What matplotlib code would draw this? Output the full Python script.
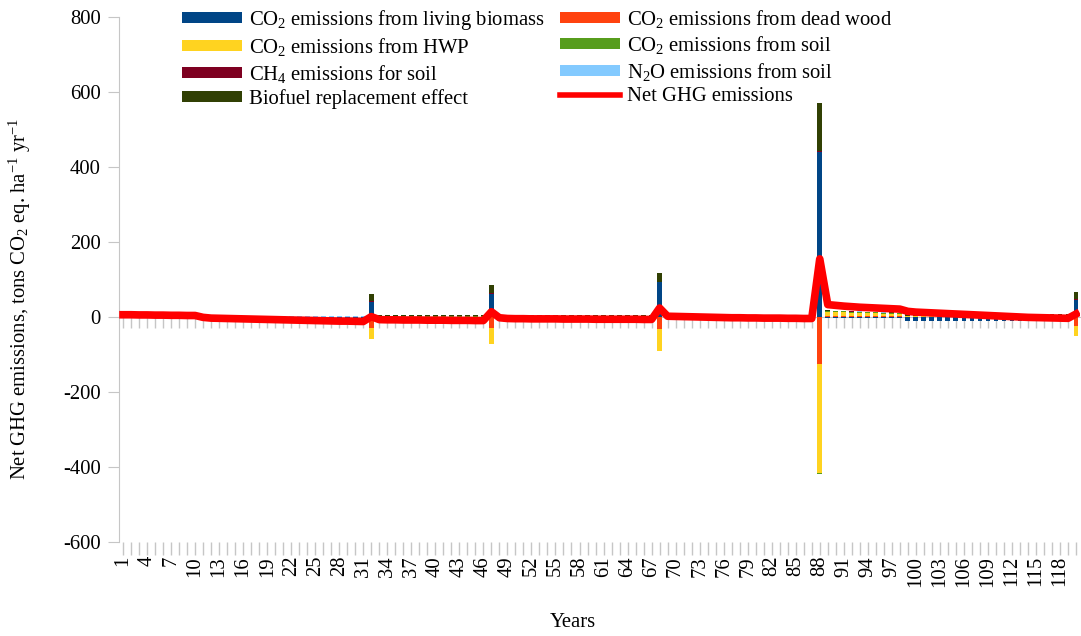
import numpy as np
import matplotlib.pyplot as plt
from matplotlib.patches import Patch
from matplotlib.lines import Line2D

plt.rcParams["font.family"] = ["Liberation Serif", "DejaVu Serif"]
plt.rcParams["mathtext.fontset"] = "custom"
plt.rcParams["mathtext.rm"] = "Liberation Serif"
plt.rcParams["mathtext.it"] = "Liberation Serif:italic"
plt.rcParams["axes.unicode_minus"] = False
plt.rcParams["font.size"] = 14.9

years = np.arange(1, 121)

# emission components per year (tons CO2 eq. per ha and year)
living_biomass = [
    0.5, 0.5, 0.5, 0.5, 0.5, 0.5, 0.5, 0.5, 0.5, 0.5,
    -2, -4.5, -5, -5.5, -6, -6.5, -7, -7.5, -8, -8.5,
    -9, -9.5, -10, -10.5, -11, -11.5, -12, -12.5, -12.5, -13,
    -13.5, 40, -10, -10.5, -10.5, -11, -11, -11, -11.5, -11.5,
    -11.5, -12, -12, -12, -12.5, -12.5, 62, -5, -7, -7.5,
    -7.5, -8, -8, -8, -8, -8.5, -8.5, -8.5, -8.5, -9,
    -9, -9, -9, -9, -9, -9.5, -9.5, 92, -1, -1.5,
    -2, -2.5, -3, -3.5, -4, -4.5, -5, -5, -5.5, -5.5,
    -6, -6, -6, -6.5, -6.5, -7, -7, 440, -3, -3,
    -3, -3, -3, -3, -3, -3, -3, -3, -10, -10,
    -10, -10, -10, -10.5, -10.5, -10.5, -11, -11, -11, -11,
    -11.5, -11.5, -11.5, -11.5, -11.5, -11.5, -11.5, -11.5, -11.5, 45,
]
dead_wood = [
    0.2, 0.2, 0.2, 0.2, 0.2, 0.2, 0.2, 0.2, 0.2, 0.2,
    0.2, 0.2, 0.2, 0.2, 0.2, 0.2, 0.2, 0.2, 0.2, 0.2,
    0.2, 0.2, 0.2, 0.2, 0.2, 0.2, 0.2, 0.2, 0.2, 0.2,
    0.2, -30, 0.5, 0.5, 0.5, 0.5, 0.5, 0.5, 0.5, 0.5,
    0.5, 0.5, 0.5, 0.5, 0.5, 0.5, -30, 0.5, 0.5, 0.5,
    0.5, 0.5, 0.5, 0.5, 0.5, 0.5, 0.5, 0.5, 0.5, 0.5,
    0.5, 0.5, 0.5, 0.5, 0.5, 0.5, 0.5, -32, 1, 1,
    1, 1, 1, 1, 1, 1, 1, 1, 1, 1,
    1, 1, 1, 1, 1, 1, 1, -125, 3, 3,
    3, 3, 3, 2.5, 2.5, 2.5, 2.5, 2.5, 1, 1,
    1, 1, 1, 1, 1, 1, 1, 1, 1, 1,
    1, 1, 1, 1, 1, 1, 1, 1, 1, -25,
]
hwp = [
    0.3, 0.3, 0.3, 0.3, 0.3, 0.3, 0.3, 0.3, 0.3, 0.3,
    0.3, 0.3, 0.3, 0.3, 0.3, 0.3, 0.3, 0.3, 0.3, 0.3,
    0.3, 0.3, 0.3, 0.3, 0.3, 0.3, 0.3, 0.3, 0.3, 0.3,
    0.3, -30, 0.5, 0.5, 0.5, 0.5, 0.5, 0.5, 0.5, 0.5,
    0.5, 0.5, 0.5, 0.5, 0.5, 0.5, -43, 0.5, 0.5, 0.5,
    0.5, 0.5, 0.5, 0.5, 0.5, 0.5, 0.5, 0.5, 0.5, 0.5,
    0.5, 0.5, 0.5, 0.5, 0.5, 0.5, 0.5, -58, 1, 1,
    1, 1, 1, 1, 1, 1, 1, 1, 1, 1,
    1, 1, 1, 1, 1, 1, 1, -290, 10, 9.5,
    9, 8.5, 8, 7.5, 7, 6.5, 6, 5.5, 0.5, 0.5,
    0.5, 0.5, 0.5, 0.5, 0.5, 0.5, 0.5, 0.5, 0.5, 0.5,
    0.5, 0.5, 0.5, 0.5, 0.5, 0.5, 0.5, 0.5, 0.5, -27,
]
soil_co2 = [
    1.5, 1.5, 1.5, 1.5, 1.5, 1.5, 1.5, 1.5, 1.5, 1.5,
    0.5, 0.5, 0.5, 0.5, 0.5, 0.5, 0.5, 0.5, 0.5, 0.5,
    0.5, 0.5, 0.5, 0.5, 0.5, 0.5, 0.5, 0.5, 0.5, 0.5,
    0.5, 0, 0.5, 0.5, 0.5, 0.5, 0.5, 0.5, 0.5, 0.5,
    0.5, 0.5, 0.5, 0.5, 0.5, 0.5, 0, 0.5, 0.5, 0.5,
    0.5, 0.5, 0.5, 0.5, 0.5, 0.5, 0.5, 0.5, 0.5, 0.5,
    0.5, 0.5, 0.5, 0.5, 0.5, 0.5, 0.5, -2, 0.5, 0.5,
    0.5, 0.5, 0.5, 0.5, 0.5, 0.5, 0.5, 0.5, 0.5, 0.5,
    0.5, 0.5, 0.5, 0.5, 0.5, 0.5, 0.5, -3, 3.5, 3.5,
    3.5, 3, 3, 3, 3, 2.5, 2.5, 2.5, 0.5, 0.5,
    0.5, 0.5, 0.5, 0.5, 0.5, 0.5, 0.5, 0.5, 0.5, 0.5,
    0.5, 0.5, 0.5, 0.5, 0.5, 0.5, 0.5, 0.5, 0.5, 0,
]
ch4_soil = [
    0.2, 0.2, 0.2, 0.2, 0.2, 0.2, 0.2, 0.2, 0.2, 0.2,
    0.2, 0.2, 0.2, 0.2, 0.2, 0.2, 0.2, 0.2, 0.2, 0.2,
    0.2, 0.2, 0.2, 0.2, 0.2, 0.2, 0.2, 0.2, 0.2, 0.2,
    0.2, 2, 0.2, 0.2, 0.2, 0.2, 0.2, 0.2, 0.2, 0.2,
    0.2, 0.2, 0.2, 0.2, 0.2, 0.2, 1, 0.2, 0.2, 0.2,
    0.2, 0.2, 0.2, 0.2, 0.2, 0.2, 0.2, 0.2, 0.2, 0.2,
    0.2, 0.2, 0.2, 0.2, 0.2, 0.2, 0.2, 1, 0.2, 0.2,
    0.2, 0.2, 0.2, 0.2, 0.2, 0.2, 0.2, 0.2, 0.2, 0.2,
    0.2, 0.2, 0.2, 0.2, 0.2, 0.2, 0.2, 2, 0.2, 0.2,
    0.2, 0.2, 0.2, 0.2, 0.2, 0.2, 0.2, 0.2, 0.2, 0.2,
    0.2, 0.2, 0.2, 0.2, 0.2, 0.2, 0.2, 0.2, 0.2, 0.2,
    0.2, 0.2, 0.2, 0.2, 0.2, 0.2, 0.2, 0.2, 0.2, 2,
]
n2o_soil = [
    0.5, 0.5, 0.5, 0.5, 0.5, 0.5, 0.5, 0.5, 0.5, 0.5,
    1.5, 1.5, 1.5, 1.5, 1.5, 1.5, 1.5, 1.5, 1.5, 1.5,
    1.5, 1.5, 1.5, 1.5, 1.5, 1.5, 1.5, 1.5, 1.5, 1.5,
    1.5, 0.5, 0.5, 0.5, 0.5, 0.5, 0.5, 0.5, 0.5, 0.5,
    0.5, 0.5, 0.5, 0.5, 0.5, 0.5, 2, 0.5, 0.5, 0.5,
    0.5, 0.5, 0.5, 0.5, 0.5, 0.5, 0.5, 0.5, 0.5, 0.5,
    0.5, 0.5, 0.5, 0.5, 0.5, 0.5, 0.5, 0.5, 0.5, 0.5,
    0.5, 0.5, 0.5, 0.5, 0.5, 0.5, 0.5, 0.5, 0.5, 0.5,
    0.5, 0.5, 0.5, 0.5, 0.5, 0.5, 0.5, 1, 0.5, 0.5,
    0.5, 0.5, 0.5, 0.5, 0.5, 0.5, 0.5, 0.5, 0.5, 0.5,
    0.5, 0.5, 0.5, 0.5, 0.5, 0.5, 0.5, 0.5, 0.5, 0.5,
    0.5, 0.5, 0.5, 0.5, 0.5, 0.5, 0.5, 0.5, 0.5, 0.5,
]
biofuel = [
    0, 0, 0, 0, 0, 0, 0, 0, 0, 0,
    0, 0, 0, 0, 0, 0, 0, 0, 0, 0,
    0, 0, 0, 0, 0, 0, 0, 0, 0, 0,
    0, 18, 2.5, 2.5, 2.5, 2.5, 2.5, 2.5, 2.5, 2.5,
    2.5, 2.5, 2.5, 2.5, 2.5, 2.5, 20, 2.5, 2.5, 2.5,
    2.5, 2.5, 2.5, 2.5, 2.5, 2.5, 2.5, 2.5, 2.5, 2.5,
    2.5, 2.5, 2.5, 2.5, 2.5, 2.5, 2.5, 25, 2, 2,
    2, 2, 2, 2, 1.5, 1.5, 1.5, 1.5, 1.5, 1.5,
    1.5, 1.5, 1.5, 1.5, 1.5, 1.5, 1.5, 128, 0.5, 0.5,
    0.5, 0.5, 0.5, 0.5, 0.5, 0.5, 0.5, 0.5, 4, 4,
    4, 4, 4, 4, 4, 4, 4, 4, 4, 4,
    4, 4, 4, 4, 4, 4, 4, 4, 4, 20,
]
net_ghg = [
    6, 6, 5.5, 5.5, 5, 5, 4.5, 4.5, 4, 4,
    -1, -3, -3.5, -4, -4.5, -5, -5.5, -6, -6.5, -7,
    -7.5, -8, -8.5, -9, -9.5, -10, -10.5, -11, -11, -11.5,
    -12, 1, -7, -7.5, -7.5, -8, -8, -8, -8.5, -8.5,
    -8.5, -9, -9, -9, -9.5, -9.5, 14, -2, -4, -4.5,
    -4.5, -5, -5, -5, -5, -5.5, -5.5, -5.5, -5.5, -6,
    -6, -6, -6, -6, -6, -6.5, -6.5, 24, 2, 1.5,
    1, 0.5, 0, -0.5, -1, -1.5, -2, -2, -2.5, -2.5,
    -3, -3, -3, -3.5, -3.5, -4, -4, 155, 33, 31,
    29, 27.5, 26, 25, 24, 23, 22, 21, 15, 13,
    12, 11, 10, 9, 8, 7, 6, 5, 4, 3,
    2, 1, 0, -1, -1.5, -2, -2.5, -3, -3.5, 8,
]

series = [living_biomass, dead_wood, hwp, soil_co2, ch4_soil, n2o_soil, biofuel]
labels = [r"CO$_2$ emissions from living biomass", r"CO$_2$ emissions from dead wood",
          r"CO$_2$ emissions from HWP", r"CO$_2$ emissions from soil",
          r"CH$_4$ emissions for soil", r"N$_2$O emissions from soil",
          "Biofuel replacement effect"]
colors = ["#004586", "#ff420e", "#ffd320", "#579d1c", "#7e0021", "#83caff", "#314004"]

fig = plt.figure(figsize=(10.81, 6.36), dpi=100)
ax = fig.add_axes([0.1101, 0.1478, 0.889, 0.8255])

# stacked columns, positives and negatives stacked separately
pos = np.zeros(len(years))
neg = np.zeros(len(years))
for vals, col in zip(series, colors):
    v = np.array(vals, dtype=float)
    bottom = np.where(v >= 0, pos, neg)
    ax.bar(years, v, width=0.6, bottom=bottom, color=col, linewidth=0, zorder=2)
    pos += np.clip(v, 0, None)
    neg += np.clip(v, None, 0)

ax.plot(years, net_ghg, color="#ff0000", lw=5.5, solid_joinstyle="round", zorder=3)

ax.set_xlim(0.5, 120.5)
ax.set_ylim(-600, 800)
ax.set_yticks(np.arange(-600, 801, 200))

gray = "#c6c6c6"
for s in ["top", "right", "bottom"]:
    ax.spines[s].set_visible(False)
ax.spines["left"].set_color(gray)
ax.tick_params(axis="y", color=gray, length=8, pad=5, labelsize=14.9)

xlabels = [str(y) if (y - 1) % 3 == 0 else "" for y in years]
ax.set_xticks(years)
ax.set_xticklabels(xlabels, rotation=90)
ax.tick_params(axis="x", color=gray, length=9, width=1.0, pad=1, labelsize=14.9)

# second category axis through zero
sec = ax.secondary_xaxis(600 / 1400)
sec.set_xticks(years)
sec.set_xticklabels([])
sec.tick_params(axis="x", color=gray, length=8, width=1.0)
sec.spines["bottom"].set_color(gray)

ax.set_ylabel(r"Net GHG emissions, tons CO$_2$ eq. ha$^{-1}$ yr$^{-1}$", fontsize=14.9)
ax.yaxis.set_label_coords(-0.09, 0.463)
ax.set_xlabel("Years", fontsize=14.9)
ax.xaxis.set_label_coords(0.472, -0.135)

handles = [Patch(facecolor=c, edgecolor="none") for c in colors]
handles.append(Line2D([0], [0], color="#ff0000", lw=4))
labels_all = labels + ["Net GHG emissions"]
order = [0, 2, 4, 6, 1, 3, 5, 7]
ax.legend([handles[i] for i in order], [labels_all[i] for i in order],
          ncol=2, frameon=False, loc="upper left",
          bbox_to_anchor=(182 / 1081, 0.988), bbox_transform=fig.transFigure,
          borderpad=0, borderaxespad=0, handlelength=2.9, handleheight=0.45,
          handletextpad=0.35, columnspacing=0.72, labelspacing=0.22,
          fontsize=14.9)

fig.savefig("out.png", dpi=100)
